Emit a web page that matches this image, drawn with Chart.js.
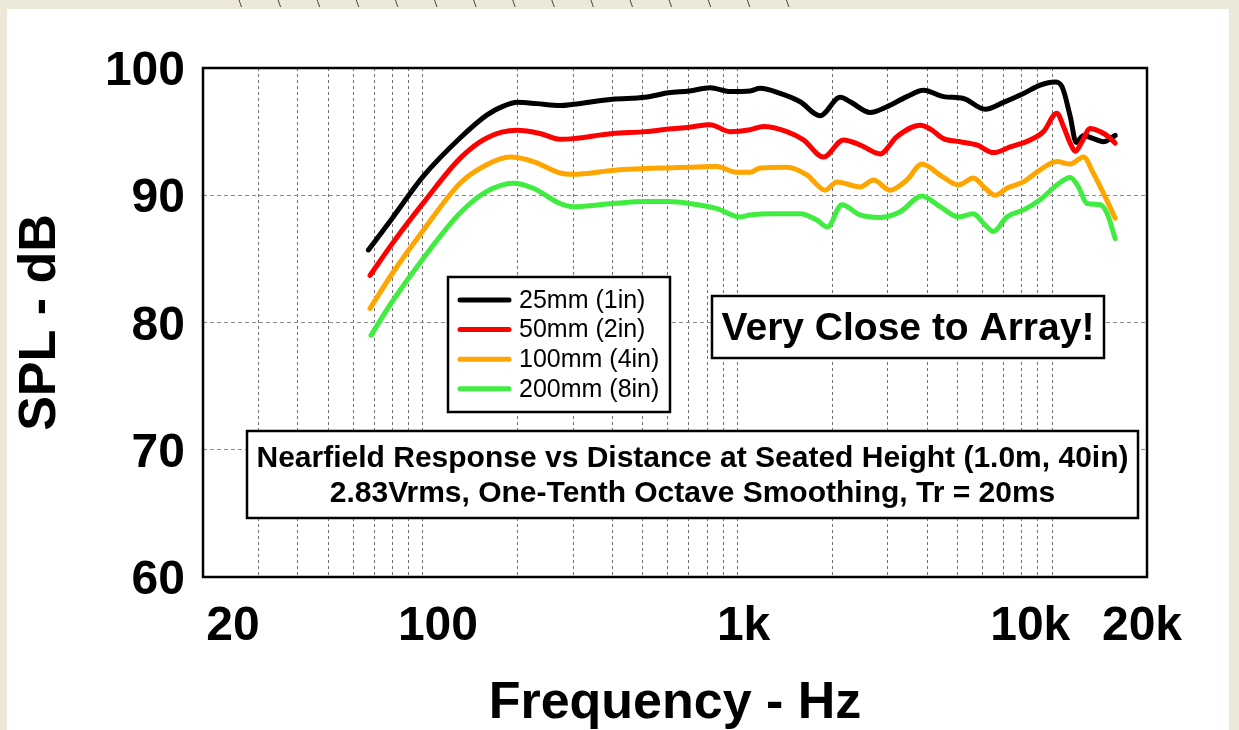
<!DOCTYPE html>
<html><head><meta charset="utf-8">
<script src="https://cdn.jsdelivr.net/npm/chart.js@4.4.1/dist/chart.umd.min.js"></script>
<style>html,body{margin:0;padding:0;background:#ECE9D8;overflow:hidden}canvas{display:block}</style>
</head><body>
<canvas id="c" width="1239" height="730"></canvas>
<script>
// ---------------- data ----------------
const seriesLabels = ['25mm (1in)', '50mm (2in)', '100mm (4in)', '200mm (8in)'];

const freq25 = [67.1,79.9,100.3,131.2,159.5,180.1,199.6,230,272.8,300.7,400,508,603,703,818,946,1096,1179,1365,1580,1829,2118,2279,2638,2980,3451,3896,4510,5220,6120,6998,8100,9152,10192,10728,11402,11912,12568,13522,14548,15848];
const spl25  = [85.7,88.2,91.5,94.5,96.3,97.0,97.3,97.2,97.05,97.15,97.55,97.7,98.05,98.2,98.45,98.15,98.2,98.4,98.0,97.35,96.25,97.7,97.35,96.5,96.95,97.75,98.25,97.75,97.6,96.75,97.3,98.0,98.65,98.9,98.55,96.2,94.15,94.7,94.45,94.2,94.7];

const freq50 = [67.9,79.9,100.3,131.2,159.5,198.7,235.6,272.8,300.7,400,508,603,703,818,946,1096,1208,1434,1619,1874,2169,2452,2838,3206,3802,4100,4510,5096,5760,6504,7350,8508,9376,10342,10856,11402,11826,12422,13198,14202,15090,15848];
const spl50  = [83.7,86.2,89.4,92.9,94.5,95.1,94.85,94.4,94.45,94.85,95.0,95.2,95.35,95.55,95.0,95.15,95.4,95.0,94.35,93.0,94.35,93.95,93.25,94.6,95.5,95.2,94.45,94.2,93.95,93.35,93.8,94.35,95.0,96.45,95.4,94.1,93.45,94.2,95.25,95.0,94.6,94.1];

const freq100 = [67.9,79.9,100.3,131.2,159.5,189.2,224.3,272.8,300.7,400,508,603,703,859,994,1096,1179,1434,1659,1897,2067,2452,2702,3053,3451,3850,4450,5032,5616,6120,6586,7174,8100,9152,10342,11402,12568,13522,14548,15848];
const spl100  = [81.1,83.85,87.25,90.95,92.4,93.0,92.65,91.75,91.65,91.95,92.1,92.15,92.2,92.25,91.8,91.8,92.15,92.2,91.6,90.4,91.05,90.65,91.2,90.4,91.2,92.45,91.5,90.8,91.35,90.55,90.0,90.55,91.05,92.0,92.65,92.45,93.0,91.7,90.15,88.2];

const freq200 = [68.4,79.9,100.3,131.2,159.5,193.8,224.3,272.8,300.7,400,508,603,703,859,1018,1096,1300,1580,1785,1929,2144,2452,2838,3286,3850,4402,5032,5616,6044,6504,7174,8100,9152,10342,11402,12116,12884,14202,14914,15848];
const spl200  = [79.0,81.65,85.05,88.6,90.3,90.95,90.55,89.35,89.1,89.35,89.5,89.5,89.35,88.95,88.3,88.45,88.55,88.55,88.05,87.5,89.25,88.45,88.25,88.7,89.95,89.1,88.3,88.55,87.8,87.15,88.3,88.85,89.65,90.8,91.4,90.65,89.35,89.25,88.6,86.6];

const xTickValues = [20, 100, 1000, 10000, 20000];
const xTickLabels = ['20', '100', '1k', '10k', '20k'];
const yTickValues = [60, 70, 80, 90, 100];
const gridDecades = [10, 100, 1000, 10000];
const gridMultipliers = [1, 2, 3, 4, 5, 6, 7, 8, 9];
const calloutText = 'Very Close to Array!';
const noteLines = ['Nearfield Response vs Distance at Seated Height (1.0m, 40in)',
                   '2.83Vrms, One-Tenth Octave Smoothing, Tr = 20ms'];

// ---------------- styles ----------------
const FONT = '"Liberation Sans", Arial, Helvetica, sans-serif';
const seriesColors = ['#000000', '#FF0000', '#FFA500', '#40EC40'];
const xLabelNudge = [30, 15, 6, -22, -5];

const gridValues = [];
gridDecades.forEach(d => gridMultipliers.forEach(m => {
  const v = m * d;
  if (v >= 20 && v <= 20000) gridValues.push(v);
}));

function pts(f, s) { return f.map((v, i) => ({x: v, y: s[i]})); }
const seriesData = [pts(freq25, spl25), pts(freq50, spl50), pts(freq100, spl100), pts(freq200, spl200)];

const datasets = seriesData.map((d, i) => ({
  label: seriesLabels[i],
  data: d,
  borderColor: seriesColors[i],
  backgroundColor: seriesColors[i],
  borderWidth: 5,
  pointRadius: 0,
  fill: false,
  cubicInterpolationMode: 'monotone',
  borderCapStyle: 'round',
  borderJoinStyle: 'round',
  order: [4, 3, 2, 1][i]
}));

const decor = {
  id: 'decor',
  beforeDraw(chart) {
    const {ctx, width, height} = chart;
    ctx.save();
    ctx.fillStyle = '#ECE9D8';
    ctx.fillRect(0, 0, width, height);
    ctx.fillStyle = '#FFFFFF';
    ctx.fillRect(7, 9, 1222, height - 9);
    ctx.strokeStyle = '#444';
    ctx.lineWidth = 1;
    for (let i = 0; i < 15; i++) {
      const x = 239 + i * 39.1;
      ctx.beginPath(); ctx.moveTo(x, 0); ctx.lineTo(x + 2.5, 7); ctx.stroke();
    }
    ctx.restore();
  },
  afterDraw(chart) {
    const {ctx, chartArea: a} = chart;
    const xs = chart.scales.x;
    ctx.save();
    // plot frame
    ctx.strokeStyle = '#000';
    ctx.lineWidth = 2.5;
    ctx.strokeRect(a.left, a.top, a.right - a.left, a.bottom - a.top);
    // x tick labels
    ctx.fillStyle = '#000';
    ctx.font = 'bold 48px ' + FONT;
    ctx.textAlign = 'center';
    ctx.textBaseline = 'alphabetic';
    xTickValues.forEach((v, i) => ctx.fillText(xTickLabels[i], xs.getPixelForValue(v) + xLabelNudge[i], 640));

    // legend box
    ctx.fillStyle = '#fff';
    ctx.fillRect(448, 277, 222, 135);
    ctx.strokeStyle = '#000';
    ctx.lineWidth = 2.5;
    ctx.strokeRect(448, 277, 222, 135);
    chart.data.datasets.forEach((ds, i) => {
      const y = 300 + i * 29.6;
      ctx.strokeStyle = ds.borderColor;
      ctx.lineWidth = 5;
      ctx.lineCap = 'round';
      ctx.beginPath(); ctx.moveTo(460, y); ctx.lineTo(509, y); ctx.stroke();
      ctx.fillStyle = '#000';
      ctx.font = '25px ' + FONT;
      ctx.textAlign = 'left';
      ctx.textBaseline = 'middle';
      ctx.fillText(ds.label, 519, y + 1);
    });

    // callout box
    ctx.lineCap = 'butt';
    ctx.fillStyle = '#fff';
    ctx.fillRect(712, 296, 392, 62);
    ctx.strokeStyle = '#000';
    ctx.lineWidth = 2.5;
    ctx.strokeRect(712, 296, 392, 62);
    ctx.fillStyle = '#000';
    ctx.font = 'bold 39px ' + FONT;
    ctx.textAlign = 'center';
    ctx.textBaseline = 'alphabetic';
    ctx.fillText(calloutText, 908, 340);

    // note box
    ctx.fillStyle = '#fff';
    ctx.fillRect(247, 431, 891, 87);
    ctx.strokeRect(247, 431, 891, 87);
    ctx.fillStyle = '#000';
    ctx.font = 'bold 30px ' + FONT;
    ctx.fillText(noteLines[0], 692.5, 467);
    ctx.fillText(noteLines[1], 692.5, 502);
    ctx.restore();
  }
};

new Chart(document.getElementById('c'), {
  type: 'line',
  data: {datasets},
  options: {
    responsive: false,
    animation: false,
    devicePixelRatio: 1,
    events: [],
    layout: {padding: {top: 68, right: 92, bottom: 0, left: 0}},
    plugins: {legend: {display: false}, tooltip: {enabled: false}},
    scales: {
      x: {
        type: 'logarithmic',
        min: 20, max: 20000,
        afterBuildTicks: s => { s.ticks = gridValues.map(v => ({value: v})); },
        afterFit: s => { s.height = 153; },
        ticks: {display: false},
        grid: {
          color: c => (c.tick && (c.tick.value === 20 || c.tick.value === 20000)) ? 'rgba(0,0,0,0)' : '#6e6e6e',
          lineWidth: 1, drawTicks: false
        },
        border: {display: false, dash: [3, 3]},
        title: {display: true, text: 'Frequency - Hz', color: '#000',
                font: {family: FONT, size: 52, weight: 'bold', lineHeight: 1},
                padding: {top: 0, bottom: 0}}
      },
      y: {
        min: 60, max: 100,
        afterBuildTicks: s => { s.ticks = yTickValues.map(v => ({value: v})); },
        afterFit: s => { s.width = 203; },
        ticks: {color: '#000', padding: 18, labelOffset: 4, font: {family: FONT, size: 48, weight: 'bold'}},
        grid: {
          color: c => (c.tick && (c.tick.value === 60 || c.tick.value === 100)) ? 'rgba(0,0,0,0)' : '#8c8c8c',
          lineWidth: 1, drawTicks: false
        },
        border: {display: false, dash: [4, 3]},
        title: {display: true, text: 'SPL - dB', color: '#000',
                font: {family: FONT, size: 52, weight: 'bold', lineHeight: 1.2},
                padding: {top: 9, bottom: 0}}
      }
    }
  },
  plugins: [decor]
});
</script>
</body></html>
